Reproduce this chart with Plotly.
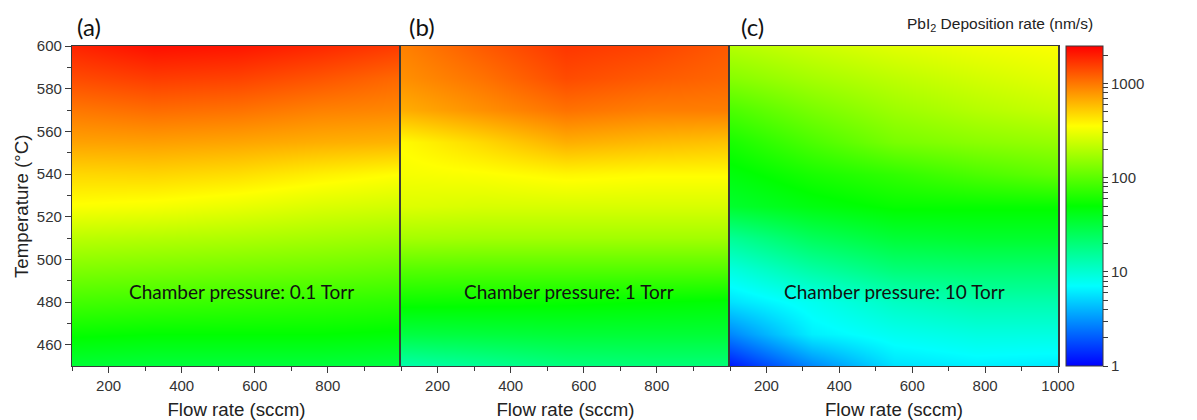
import numpy as np
import plotly.graph_objects as go

# Flow rate (sccm) grid and temperature (°C) grid
flow = [100, 325, 550, 775, 1000]
temp = [450, 465, 480, 495, 510, 525, 540, 555, 570, 585, 600]

# log10 of PbI2 deposition rate (nm/s), rows follow temp, columns follow flow
rate_01torr = [
    [1.52, 1.50, 1.50, 1.50, 1.48],
    [1.72, 1.70, 1.70, 1.70, 1.68],
    [1.92, 1.90, 1.88, 1.86, 1.84],
    [2.12, 2.10, 2.08, 2.06, 2.03],
    [2.32, 2.30, 2.28, 2.25, 2.22],
    [2.54, 2.52, 2.48, 2.43, 2.40],
    [2.68, 2.69, 2.66, 2.60, 2.55],
    [2.86, 2.87, 2.85, 2.82, 2.80],
    [3.00, 3.04, 3.02, 2.97, 2.95],
    [3.15, 3.20, 3.18, 3.12, 3.05],
    [3.28, 3.35, 3.33, 3.27, 3.20],
]
rate_1torr = [
    [1.13, 1.20, 1.28, 1.30, 1.30],
    [1.48, 1.50, 1.52, 1.52, 1.52],
    [1.74, 1.73, 1.72, 1.70, 1.68],
    [1.98, 1.97, 1.97, 1.97, 1.97],
    [2.25, 2.24, 2.24, 2.24, 2.24],
    [2.44, 2.42, 2.42, 2.42, 2.42],
    [2.52, 2.54, 2.58, 2.56, 2.56],
    [2.56, 2.68, 2.82, 2.78, 2.75],
    [2.82, 2.92, 3.02, 2.98, 2.98],
    [2.92, 3.02, 3.15, 3.10, 3.06],
    [2.97, 3.10, 3.22, 3.18, 3.10],
]
rate_10torr = [
    [0.08, 0.45, 0.75, 0.80, 0.78],
    [0.45, 0.80, 0.90, 0.95, 0.95],
    [0.75, 0.90, 1.05, 1.12, 1.12],
    [0.95, 1.15, 1.30, 1.33, 1.33],
    [1.20, 1.40, 1.52, 1.55, 1.55],
    [1.55, 1.65, 1.72, 1.72, 1.72],
    [1.66, 1.78, 1.86, 1.95, 2.02],
    [1.78, 1.95, 2.10, 2.16, 2.20],
    [1.95, 2.10, 2.22, 2.30, 2.36],
    [2.15, 2.25, 2.33, 2.40, 2.46],
    [2.30, 2.38, 2.45, 2.50, 2.54],
]
panels = [rate_01torr, rate_1torr, rate_10torr]
panel_letters = ["(a)", "(b)", "(c)"]
pressure_labels = ["Chamber pressure: 0.1 Torr", "Chamber pressure: 1 Torr", "Chamber pressure: 10 Torr"]
label_pos = [(565, 485), (560, 485), (550, 485)]

cbar_major = [1, 10, 100, 1000]
cbar_minor = [2, 3, 4, 5, 6, 7, 8, 9, 20, 30, 40, 50, 60, 70, 80, 90,
              200, 300, 400, 500, 600, 700, 800, 900, 2000]

W, H = 1197, 420
ml, mr, mt, mb = 72, 139, 46, 54
pw = W - ml - mr
doms = [(0, 329 / pw), (329 / pw, 658 / pw), (658 / pw, 1.0)]

fig = go.Figure()
axfont = dict(family="Liberation Sans, Arial, sans-serif", size=15, color="#333333")
titlefont = dict(family="Liberation Sans, Arial, sans-serif", size=18.7, color="#222222")
linec = "#3a3a3a"

for i, z in enumerate(panels):
    xa = "x" if i == 0 else f"x{i+1}"
    ya = "y" if i == 0 else f"y{i+1}"
    fig.add_trace(go.Heatmap(
        x=flow, y=temp, z=z, zsmooth="best", coloraxis="coloraxis",
        xaxis=xa, yaxis=ya, hoverinfo="skip"))

tickvals_all = [np.log10(v) for v in cbar_major + cbar_minor]
ticktext_all = [str(v) for v in cbar_major] + [" "] * len(cbar_minor)

fig.update_layout(
    width=W, height=H,
    margin=dict(l=ml, r=mr, t=mt, b=mb, autoexpand=False),
    paper_bgcolor="white", plot_bgcolor="white",
    showlegend=False,
    coloraxis=dict(
        cmin=0, cmax=3.4,
        colorscale=[[0, "#0000ff"], [0.25, "#00ffff"], [0.5, "#00ff00"],
                    [0.75, "#ffff00"], [1, "#ff0000"]],
        colorbar=dict(
            x=1.008, xanchor="left", xpad=0, ypad=0,
            y=0, yanchor="bottom", len=1, lenmode="fraction",
            thickness=37, thicknessmode="pixels",
            outlinewidth=1, outlinecolor=linec,
            tickmode="array", tickvals=tickvals_all, ticktext=ticktext_all,
            ticks="outside", ticklen=5, tickcolor=linec,
            tickfont=dict(family="Liberation Sans, Arial, sans-serif", size=15, color="#333333"),
        ),
    ),
)

for i in range(3):
    key = "xaxis" if i == 0 else f"xaxis{i+1}"
    ya = "y" if i == 0 else f"y{i+1}"
    tv = [200, 400, 600, 800] + ([1000] if i == 2 else [])
    fig.layout[key] = dict(
        domain=list(doms[i]), range=[100, 1000], anchor=ya, automargin=False,
        tickmode="array", tickvals=tv, ticks="outside", ticklen=6,
        tickcolor=linec, tickfont=axfont,
        minor=dict(tickvals=[100, 300, 500, 700, 900], ticks="outside", ticklen=4, tickcolor=linec),
        showline=True, linecolor=linec, linewidth=1.2, mirror=True,
        showgrid=False, zeroline=False,
        title=dict(text="Flow rate (sccm)", font=titlefont),
    )

fig.layout["yaxis"] = dict(
    domain=[0, 1], range=[450, 600], anchor="x", automargin=False,
    tickmode="array", tickvals=[460, 480, 500, 520, 540, 560, 580, 600],
    ticks="outside", ticklen=6, tickcolor=linec, tickfont=axfont,
    minor=dict(tickvals=[470, 490, 510, 530, 550, 570, 590], ticks="outside", ticklen=4, tickcolor=linec),
    showline=True, linecolor=linec, linewidth=1.2, mirror=True,
    showgrid=False, zeroline=False,
)
for i in (2, 3):
    fig.layout[f"yaxis{i}"] = dict(
        domain=[0, 1], range=[450, 600], anchor=f"x{i}", matches="y", automargin=False,
        showticklabels=False, ticks="",
        showline=True, linecolor=linec, linewidth=1.5, mirror=True,
        showgrid=False, zeroline=False,
    )

annotations = []
for i in range(3):
    xr = "x" if i == 0 else f"x{i+1}"
    yr = "y" if i == 0 else f"y{i+1}"
    annotations.append(dict(
        x=100, y=600, xref=xr, yref=yr, text=panel_letters[i], showarrow=False,
        xanchor="left", yanchor="bottom", xshift=3 + 3 * i, yshift=3,
        font=dict(family="Lato, Open Sans, sans-serif", size=24, color="#111111")))
    lx, ly = label_pos[i]
    annotations.append(dict(
        x=lx, y=ly, xref=xr, yref=yr, text=pressure_labels[i], showarrow=False,
        xanchor="center", yanchor="middle",
        font=dict(family="Lato, Open Sans, sans-serif", size=19, color="#111111")))
annotations.append(dict(
    x=(1095 - ml) / pw, y=1, xref="paper", yref="paper", yanchor="bottom", yshift=10,
    text="PbI<sub>2</sub> Deposition rate (nm/s)", showarrow=False,
    font=dict(family="Liberation Sans, Arial, sans-serif", size=15.5, color="#222222")))
annotations.append(dict(
    x=(21 - ml) / pw, y=0.5, xref="paper", yref="paper", xanchor="center", yanchor="middle",
    text="Temperature (°C)", textangle=-90, showarrow=False, font=titlefont))
fig.update_layout(annotations=annotations)

fig.write_html("out.html")
